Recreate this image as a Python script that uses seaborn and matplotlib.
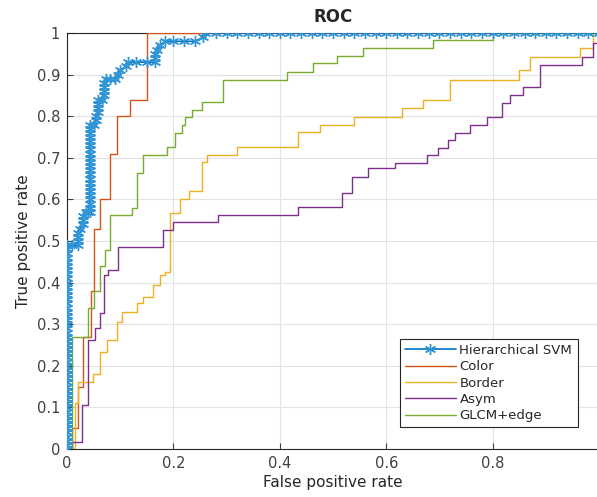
import matplotlib
matplotlib.use("Agg")
import matplotlib.pyplot as plt
import seaborn as sns

# ROC points
svm_fpr = [0.0] * 50 + [
    0.01, 0.02, 0.02, 0.02, 0.02, 0.025, 0.03, 0.03, 0.03, 0.035, 0.04,
] + [0.043] * 22 + [
    0.05, 0.055, 0.055, 0.058, 0.058, 0.058, 0.058, 0.065, 0.07, 0.07, 0.07, 0.07,
    0.073, 0.08, 0.09, 0.095, 0.10, 0.11, 0.115, 0.13, 0.15, 0.165, 0.165, 0.165,
    0.17, 0.175, 0.185, 0.20, 0.22, 0.24, 0.256, 0.26,
    0.28, 0.30, 0.32, 0.34, 0.36, 0.38, 0.40, 0.42, 0.44, 0.46, 0.48, 0.50,
    0.52, 0.54, 0.56, 0.58, 0.60, 0.62, 0.64, 0.66, 0.68, 0.70, 0.72, 0.74,
    0.76, 0.78, 0.80, 0.82, 0.84, 0.86, 0.88, 0.90, 0.92, 0.94, 0.96, 0.98, 1.0,
]
svm_tpr = [
    0.00, 0.01, 0.02, 0.03, 0.04, 0.05, 0.06, 0.07, 0.08, 0.09,
    0.10, 0.11, 0.12, 0.13, 0.14, 0.15, 0.16, 0.17, 0.18, 0.19,
    0.20, 0.21, 0.22, 0.23, 0.24, 0.25, 0.26, 0.27, 0.28, 0.29,
    0.30, 0.31, 0.32, 0.33, 0.34, 0.35, 0.36, 0.37, 0.38, 0.39,
    0.40, 0.41, 0.42, 0.43, 0.44, 0.45, 0.46, 0.47, 0.48, 0.49,
    0.49, 0.49, 0.50, 0.51, 0.52, 0.53, 0.54, 0.55, 0.56, 0.57, 0.57,
    0.57, 0.58, 0.59, 0.60, 0.61, 0.62, 0.63, 0.64, 0.65, 0.66, 0.67,
    0.68, 0.69, 0.70, 0.71, 0.72, 0.73, 0.74, 0.75, 0.76, 0.77, 0.78,
    0.78, 0.79, 0.80, 0.81, 0.82, 0.83, 0.84, 0.84, 0.85, 0.86, 0.87, 0.88,
    0.89, 0.89, 0.89, 0.90, 0.91, 0.92, 0.93, 0.93, 0.93, 0.93, 0.94, 0.95,
    0.96, 0.97, 0.98, 0.98, 0.98, 0.98, 0.99, 1.0,
] + [1.0] * 37

color_fpr = [0, 0.01, 0.02, 0.03, 0.045, 0.05, 0.062, 0.081, 0.094, 0.118, 0.15, 1.0]
color_tpr = [0, 0.05, 0.15, 0.27, 0.38, 0.53, 0.60, 0.71, 0.80, 0.84, 1.0, 1.0]

border_fpr = [0, 0.015, 0.021, 0.049, 0.062, 0.075, 0.094, 0.103, 0.131, 0.143,
              0.162, 0.175, 0.185, 0.194, 0.212, 0.23, 0.254, 0.263, 0.32, 0.434,
              0.476, 0.54, 0.63, 0.67, 0.72, 0.85, 0.87, 0.964, 0.989, 1.0]
border_tpr = [0, 0.11, 0.16, 0.18, 0.233, 0.262, 0.305, 0.33, 0.35, 0.366,
              0.394, 0.418, 0.425, 0.567, 0.60, 0.62, 0.69, 0.707, 0.726, 0.762,
              0.779, 0.798, 0.82, 0.839, 0.887, 0.911, 0.942, 0.964, 1.0, 1.0]

asym_fpr = [0, 0.01, 0.028, 0.04, 0.053, 0.062, 0.07, 0.077, 0.096, 0.18, 0.2,
            0.284, 0.434, 0.517, 0.535, 0.566, 0.617, 0.677, 0.697, 0.716, 0.729,
            0.757, 0.789, 0.818, 0.833, 0.857, 0.889, 0.968, 0.989, 1.0]
asym_tpr = [0, 0.017, 0.106, 0.262, 0.29, 0.327, 0.418, 0.43, 0.486, 0.526, 0.546,
            0.562, 0.582, 0.615, 0.654, 0.675, 0.687, 0.707, 0.723, 0.743, 0.76,
            0.779, 0.798, 0.831, 0.851, 0.870, 0.923, 0.942, 0.976, 1.0]

glcm_fpr = [0, 0.009, 0.04, 0.05, 0.062, 0.071, 0.081, 0.122, 0.131, 0.143, 0.188,
            0.203, 0.216, 0.222, 0.235, 0.254, 0.293, 0.413, 0.462, 0.507, 0.556,
            0.688, 0.8, 1.0]
glcm_tpr = [0, 0.27, 0.34, 0.38, 0.44, 0.478, 0.562, 0.579, 0.663, 0.707, 0.726,
            0.76, 0.779, 0.798, 0.815, 0.834, 0.887, 0.906, 0.928, 0.945, 0.964,
            0.983, 1.0, 1.0]

labels = ["Hierarchical SVM", "Color", "Border", "Asym", "GLCM+edge"]
colors = ["#0072BD", "#D95319", "#EDB120", "#7E2F8E", "#77AC30"]

sns.set_style("ticks")
plt.rcParams["font.family"] = ["DejaVu Sans"]

fig = plt.figure(figsize=(5.97, 4.97), dpi=100)
ax = fig.add_axes([67 / 597, 48 / 497, 532 / 597, 416 / 497])

# MATLAB-like '*' marker: six-armed asterisk
sns.lineplot(x=svm_fpr, y=svm_tpr, ax=ax, estimator=None, sort=False,
             color=colors[0], lw=1.2, marker=(6, 2, 0), markersize=8,
             markeredgecolor="#2f95d6", markerfacecolor="#2f95d6",
             markeredgewidth=1.0, label=labels[0], zorder=6)
curves = [(color_fpr, color_tpr), (border_fpr, border_tpr),
          (asym_fpr, asym_tpr), (glcm_fpr, glcm_tpr)]
for (fx, ty), lab, col in zip(curves, labels[1:], colors[1:]):
    sns.lineplot(x=fx, y=ty, ax=ax, estimator=None, sort=False,
                 drawstyle="steps-post", color=col, lw=1.0, label=lab, zorder=4)

ax.set_xlim(0, 1)
ax.set_ylim(0, 1)
ax.set_xticks([0, 0.2, 0.4, 0.6, 0.8])
ax.set_xticklabels(["0", "0.2", "0.4", "0.6", "0.8"])
ax.set_yticks([i / 10 for i in range(11)])
ax.set_yticklabels(["0", "0.1", "0.2", "0.3", "0.4", "0.5", "0.6", "0.7", "0.8", "0.9", "1"])
ax.tick_params(direction="in", length=4, labelsize=10.5, colors="#404040", pad=5)
ax.grid(True, color="#e3e3e3", lw=0.8)
for s in ax.spines.values():
    s.set_color("#262626")
    s.set_linewidth(0.8)

ax.set_title("ROC", fontsize=12, fontweight="bold", pad=8)
ax.set_xlabel("False positive rate", fontsize=11, color="#262626", labelpad=3)
ax.set_ylabel("True positive rate", fontsize=11, color="#262626", labelpad=4)

leg = ax.legend(loc="lower right", bbox_to_anchor=(0.972, 0.036), fontsize=9.5,
                frameon=True, fancybox=False, framealpha=1, edgecolor="#262626",
                handlelength=3.8, handletextpad=0.3, labelspacing=0.25,
                borderpad=0.4)
leg.get_frame().set_linewidth(0.8)

fig.savefig("out.png", dpi=100)
